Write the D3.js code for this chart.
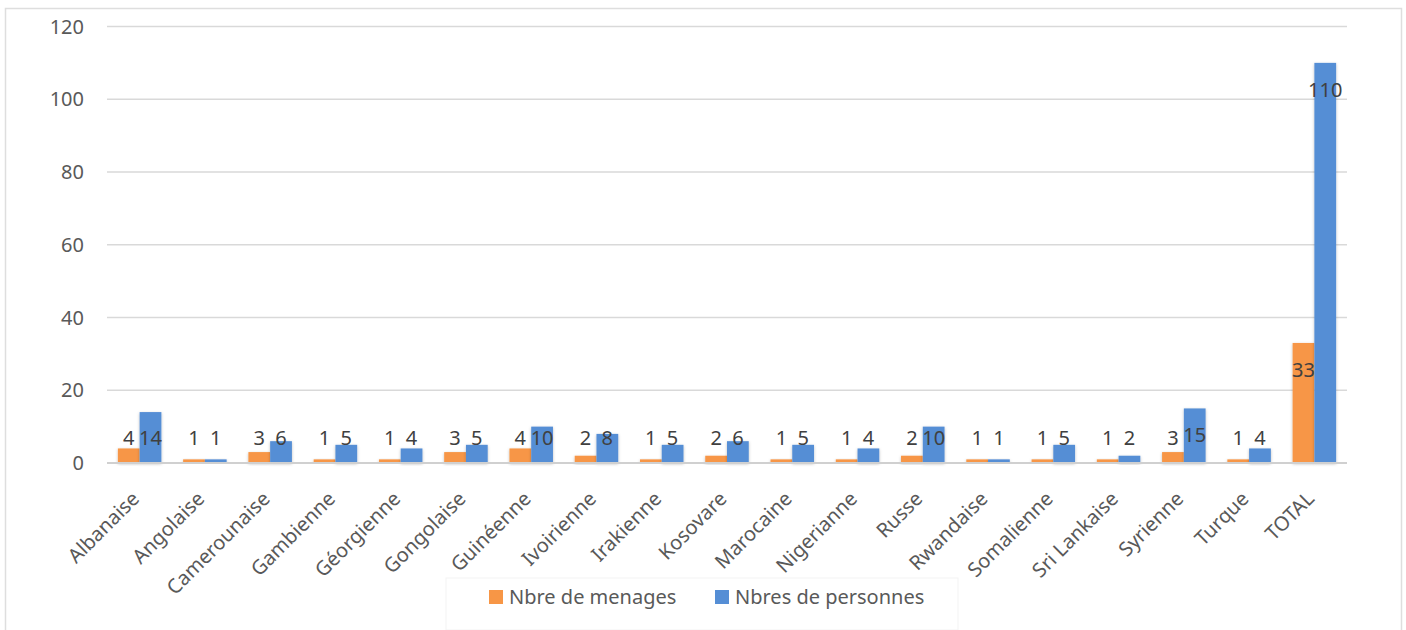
<!DOCTYPE html>
<html>
<head>
<meta charset="utf-8">
<script src="https://cdn.jsdelivr.net/npm/d3@7"></script>
<style>
  body { margin: 0; background: #fff; }
  svg { display: block; font-family: "Noto Sans", "Open Sans", sans-serif; }
  .tick-text { fill: #595959; font-size: 20px; }
  .value-text { fill: #404040; font-size: 20px; }
  .legend-text { fill: #595959; font-size: 20px; }
</style>
</head>
<body>
<div id="chart"></div>
<script>
const categories = ["Albanaise", "Angolaise", "Camerounaise", "Gambienne", "Géorgienne", "Gongolaise",
  "Guinéenne", "Ivoirienne", "Irakienne", "Kosovare", "Marocaine", "Nigerianne", "Russe",
  "Rwandaise", "Somalienne", "Sri Lankaise", "Syrienne", "Turque", "TOTAL"];
const menages = [4, 1, 3, 1, 1, 3, 4, 2, 1, 2, 1, 1, 2, 1, 1, 1, 3, 1, 33];
const personnes = [14, 1, 6, 5, 4, 5, 10, 8, 5, 6, 5, 4, 10, 1, 5, 2, 15, 4, 110];
const seriesNames = ["Nbre de menages", "Nbres de personnes"];
const colors = ["#F79646", "#558ED5"];
const yTicks = [0, 20, 40, 60, 80, 100, 120];

const width = 1406;
const height = 630;
const plot = { left: 107, right: 1347, top: 26.5, bottom: 463 };

const svg = d3.select("#chart").append("svg")
  .attr("width", width)
  .attr("height", height);

const defs = svg.append("defs");
const shadow = defs.append("filter").attr("id", "shadow")
  .attr("x", "-30%").attr("y", "-10%").attr("width", "160%").attr("height", "130%");
shadow.append("feDropShadow")
  .attr("dx", 0).attr("dy", 1).attr("stdDeviation", 1.6)
  .attr("flood-color", "#000").attr("flood-opacity", 0.25);

// chart frame
svg.append("rect")
  .attr("x", 5.5).attr("y", 8.5)
  .attr("width", 1396).attr("height", 640)
  .attr("fill", "none")
  .attr("stroke", "#dedede")
  .attr("stroke-width", 1.5);

const x = d3.scaleBand().domain(categories).range([plot.left, plot.right]).paddingInner(1 / 3).paddingOuter(1 / 6);
const xSub = d3.scaleBand().domain([0, 1]).range([0, x.bandwidth()]);
const y = d3.scaleLinear().domain([0, 120]).range([plot.bottom, plot.top]);

// gridlines
svg.append("g").selectAll("line")
  .data(yTicks.filter(d => d > 0))
  .join("line")
  .attr("x1", plot.left).attr("x2", plot.right)
  .attr("y1", d => y(d)).attr("y2", d => y(d))
  .attr("stroke", "#d9d9d9")
  .attr("stroke-width", 1.5);

// y labels
svg.append("g").selectAll("text")
  .data(yTicks)
  .join("text")
  .attr("class", "tick-text")
  .attr("x", 84)
  .attr("y", d => y(d))
  .attr("dy", "0.35em")
  .attr("text-anchor", "end")
  .text(d => d);

const rows = categories.map((c, i) => ({ cat: c, vals: [menages[i], personnes[i]] }));

const groups = svg.append("g").selectAll("g")
  .data(rows)
  .join("g")
  .attr("transform", d => `translate(${x(d.cat)},0)`);

groups.selectAll("rect")
  .data(d => d.vals.map((v, s) => ({ v, s })))
  .join("rect")
  .attr("x", d => xSub(d.s))
  .attr("width", xSub.bandwidth())
  .attr("y", d => y(d.v))
  .attr("height", d => y(0) - y(d.v))
  .attr("fill", d => colors[d.s])
  .attr("filter", "url(#shadow)");

// axis line
svg.append("line")
  .attr("x1", plot.left).attr("x2", plot.right)
  .attr("y1", y(0)).attr("y2", y(0))
  .attr("stroke", "#d0d0d0")
  .attr("stroke-width", 2);

// value labels (inside end, kept above the axis)
groups.selectAll("text.value-text")
  .data(d => d.vals.map((v, s) => ({ v, s })))
  .join("text")
  .attr("class", "value-text")
  .attr("x", d => xSub(d.s) + xSub.bandwidth() / 2)
  .attr("y", d => Math.min(y(d.v) + 27, 438))
  .attr("dy", "0.35em")
  .attr("text-anchor", "middle")
  .text(d => d.v);

// category labels
svg.append("g").selectAll("text")
  .data(categories)
  .join("text")
  .attr("class", "tick-text")
  .attr("text-anchor", "end")
  .attr("dy", "0.35em")
  .attr("transform", d => `translate(${x(d) + x.bandwidth() / 2 - 4},${plot.bottom + 32}) rotate(-45)`)
  .text(d => d);

// legend
svg.append("rect")
  .attr("x", 446).attr("y", 578)
  .attr("width", 512).attr("height", 52)
  .attr("fill", "none")
  .attr("stroke", "#f3f3f3")
  .attr("stroke-width", 1);

const legendX = [489, 715];
seriesNames.forEach((name, i) => {
  const g = svg.append("g").attr("transform", `translate(${legendX[i]},590)`);
  g.append("rect")
    .attr("width", 14).attr("height", 14)
    .attr("fill", colors[i]);
  g.append("text")
    .attr("class", "legend-text")
    .attr("x", 20)
    .attr("y", 7)
    .attr("dy", "0.35em")
    .text(name);
});
</script>
</body>
</html>
